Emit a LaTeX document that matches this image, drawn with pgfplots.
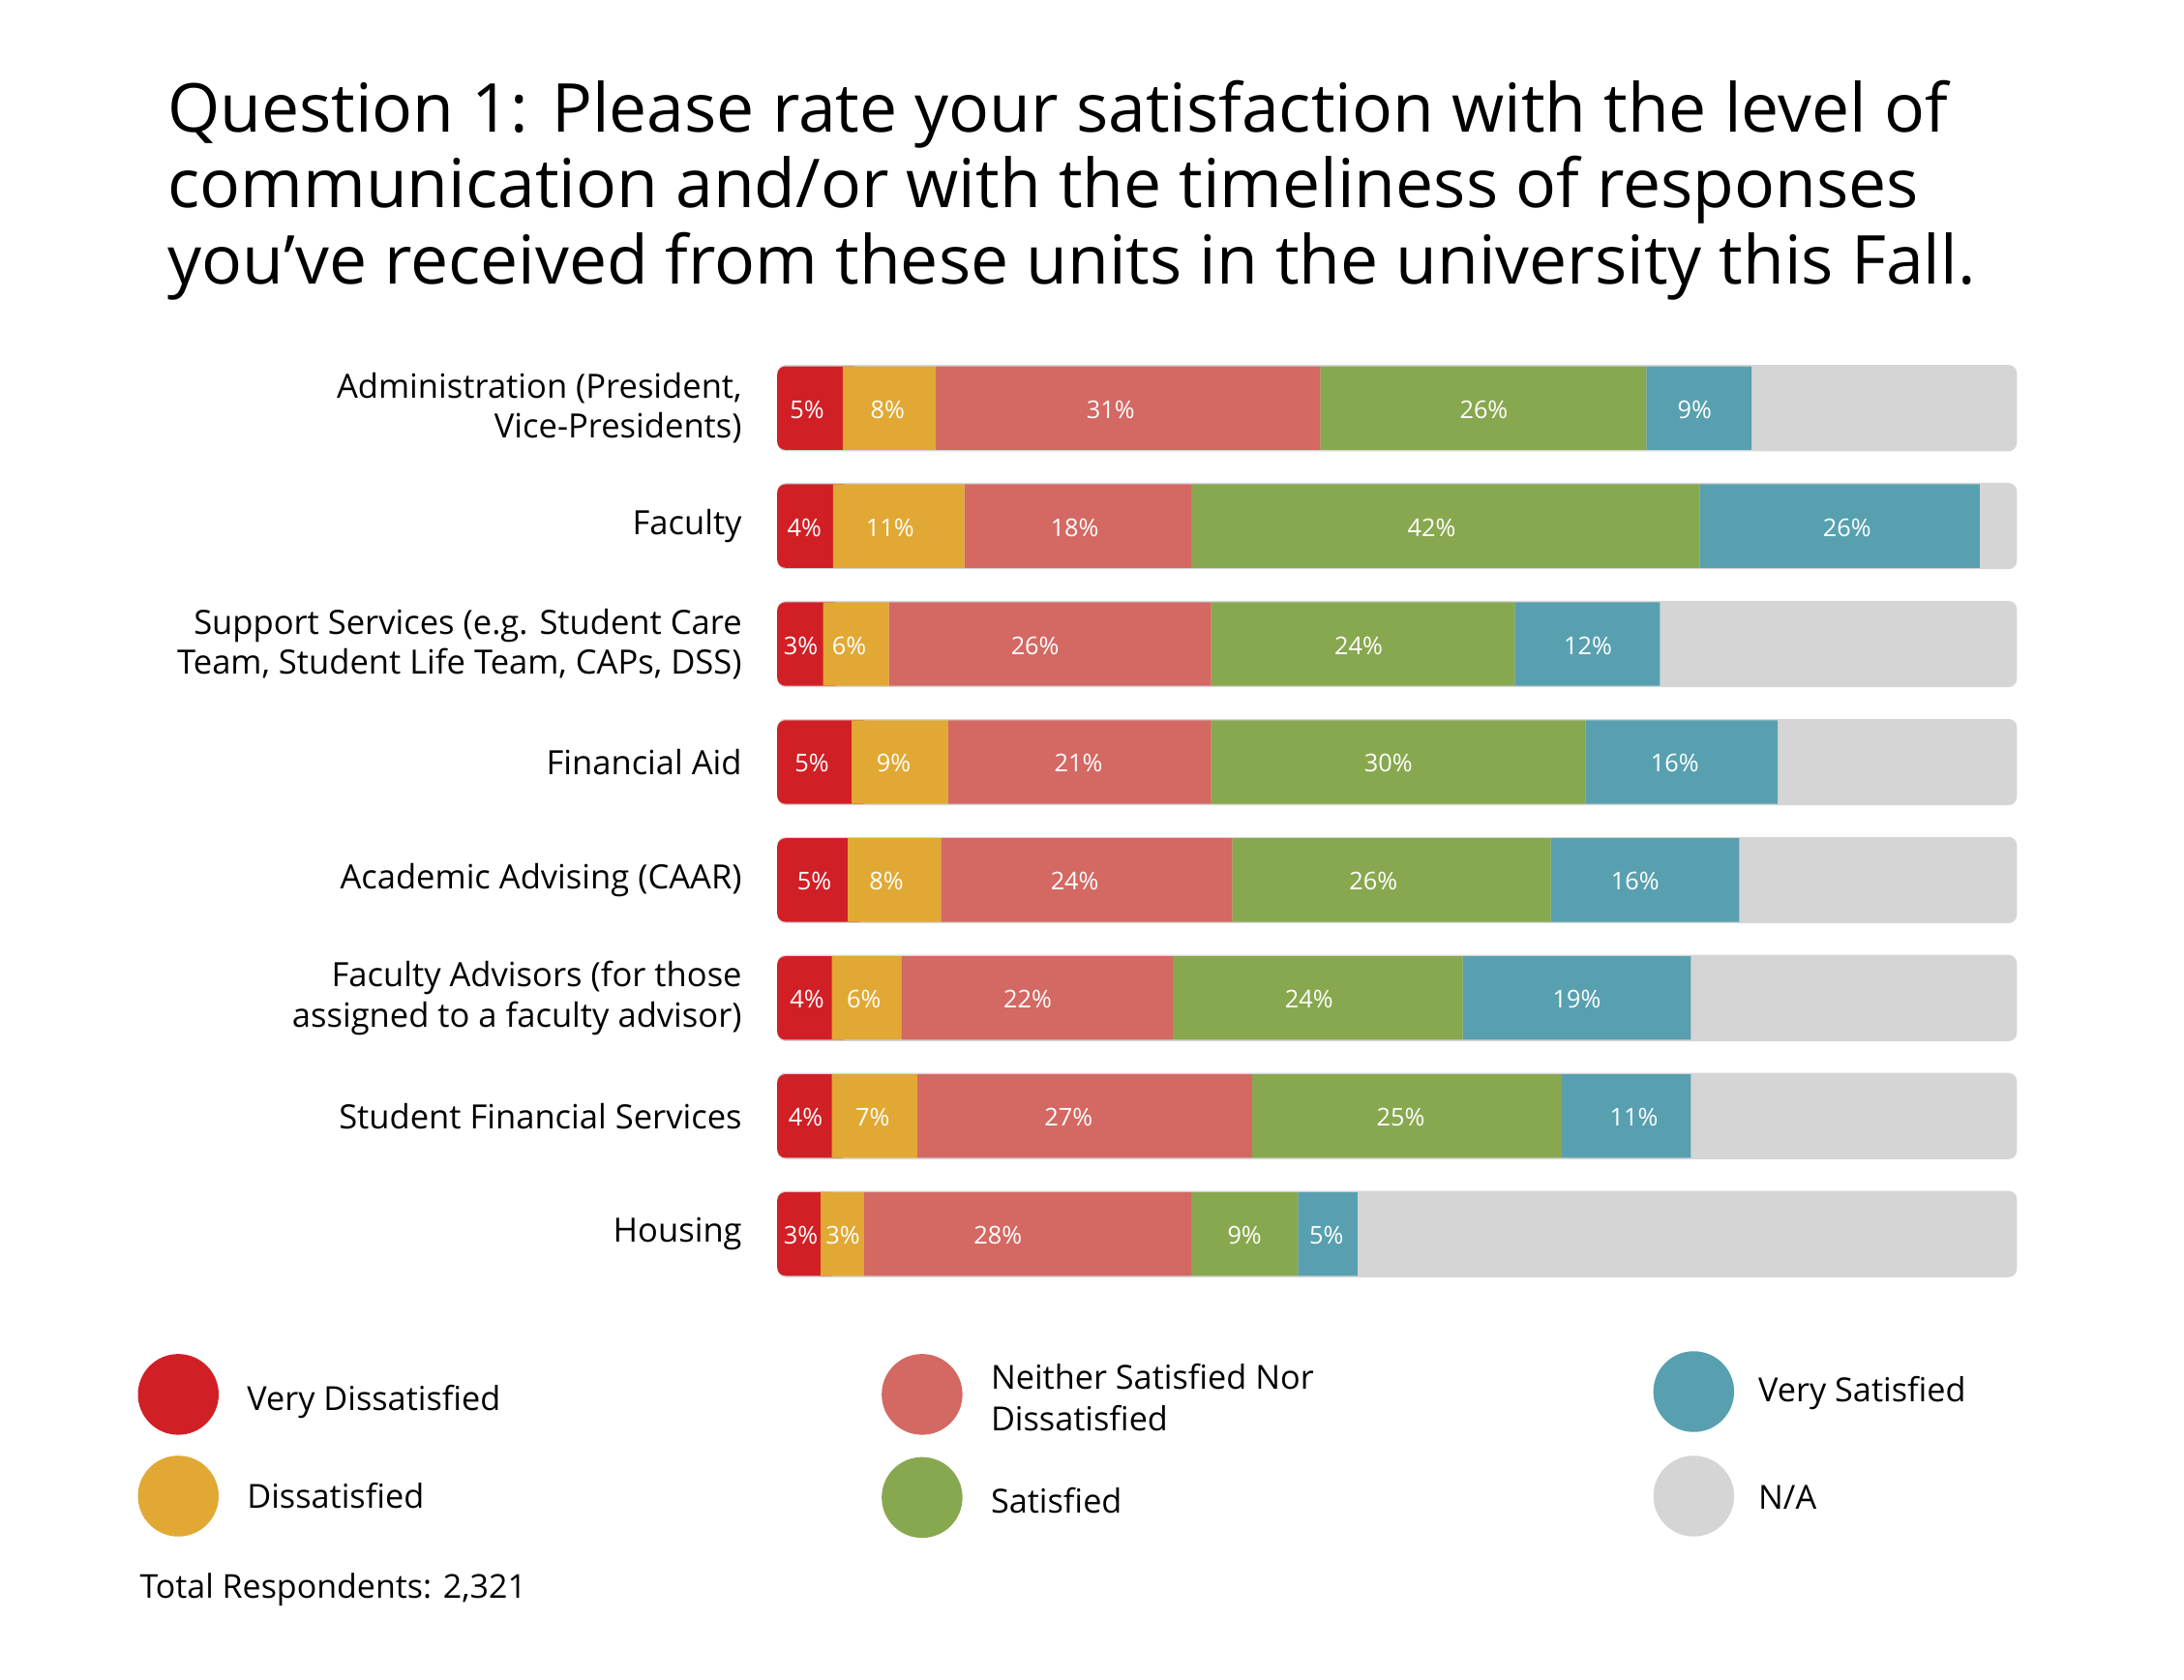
\documentclass[border=0pt]{standalone}
\usepackage{fontspec}
\setmainfont{Open Sans}
\usepackage{pgfplots}
\pgfplotsset{compat=1.18}
\usepackage{pgfplotstable}

\definecolor{cVD}{HTML}{D11F26}
\definecolor{cD}{HTML}{E1A833}
\definecolor{cN}{HTML}{D46862}
\definecolor{cS}{HTML}{88A84F}
\definecolor{cVS}{HTML}{58A0B0}
\definecolor{cNA}{HTML}{D5D5D5}

% segment widths (percent of bar) and printed labels
\pgfplotstableread{
y vd  d    n    s    vs   na   lvd ld ln ls lvs
0 5.3 7.5  31.0 26.3 8.5  21.4 5   8  31 26 9
1 4.5 10.6 18.3 41.0 22.6 3.0  4   11 18 42 26
2 3.7 5.3  26.0 24.5 11.7 28.8 3   6  26 24 12
3 6.0 7.8  21.2 30.2 15.5 19.3 5   9  21 30 16
4 5.7 7.5  23.5 25.7 15.2 22.4 5   8  24 26 16
5 4.4 5.6  21.9 23.4 18.4 26.3 4   6  22 24 19
6 4.4 6.9  27.0 25.0 10.4 26.3 4   7  27 25 11
7 3.5 3.5  26.4 8.6  4.8  53.2 3   3  28 9  5
}\datatable

% positions of the printed labels along the bar (percent)
\pgfplotstableread{
y p1  p2  p3   p4   p5
0 2.4 8.9 26.9 57.0 74.0
1 2.2 9.1 24.0 52.8 86.3
2 1.9 5.8 20.8 46.9 65.4
3 2.8 9.4 24.3 49.3 72.4
4 3.0 8.8 24.0 48.1 69.2
5 2.4 7.0 20.2 42.9 64.5
6 2.3 7.7 23.5 50.3 69.1
7 1.9 5.3 17.8 37.7 44.3
}\postable

\begin{document}
\begin{tikzpicture}
\useasboundingbox (0,0) rectangle (784pt,-603pt);
\pgfplotsset{
  base/.style={scale only axis, width=445pt, height=338.8pt,
    at={(279pt,-125.3pt)}, anchor=north west,
    xmin=0, xmax=100, ymin=-0.5, ymax=7.5, y dir=reverse,
    axis line style={draw=none}, major tick length=0pt, xtick=\empty, clip=false},
}
% background bars and rounded left end
\begin{axis}[base, ytick={0,...,7},
  yticklabels={{Administration (President,\\Vice-Presidents)}, Faculty,
    {Support Services (e.g. Student Care\\Team, Student Life Team, CAPs, DSS)},
    Financial Aid, Academic Advising (CAAR),
    {Faculty Advisors (for those\\assigned to a faculty advisor)},
    Student Financial Services, Housing},
  yticklabel style={align=right, font=\fontsize{12}{14.5}\selectfont, inner sep=0pt, xshift=-12.5pt}]
\addplot[xbar, bar width=31pt, bar shift=0pt, fill=cNA, draw=none, rounded corners=3pt]
  table[x expr=\thisrow{vd}+\thisrow{d}+\thisrow{n}+\thisrow{s}+\thisrow{vs}+\thisrow{na}, y=y] {\datatable};
\addplot[xbar, bar width=30pt, bar shift=0pt, fill=cVD, draw=none, rounded corners=3pt]
  table[x expr=\thisrow{vd}+1.5, y=y] {\datatable};
\end{axis}
% stacked segments
\begin{axis}[base, xbar stacked, bar width=30pt, ytick=\empty]
\addplot[fill=none, draw=none] table[x=vd, y=y] {\datatable};
\addplot[fill=cD, draw=none] table[x=d, y=y] {\datatable};
\addplot[fill=cN, draw=none] table[x=n, y=y] {\datatable};
\addplot[fill=cS, draw=none] table[x=s, y=y] {\datatable};
\addplot[fill=cVS, draw=none] table[x=vs, y=y] {\datatable};
\end{axis}
% labels
\pgfplotstablecreatecol[copy column from table={\datatable}{lvd}]{lvd}\postable
\pgfplotstablecreatecol[copy column from table={\datatable}{ld}]{ld}\postable
\pgfplotstablecreatecol[copy column from table={\datatable}{ln}]{ln}\postable
\pgfplotstablecreatecol[copy column from table={\datatable}{ls}]{ls}\postable
\pgfplotstablecreatecol[copy column from table={\datatable}{lvs}]{lvs}\postable
\begin{axis}[base, ytick=\empty,
  nodes near coords={\pgfplotspointmeta\%}, point meta=explicit symbolic,
  every node near coord/.style={text=white, font=\fontsize{8.8}{10}\selectfont, anchor=center, inner sep=0pt, yshift=-0.5pt}]
\addplot[only marks, mark=*, mark size=0pt, mark options={draw=none, fill=none}]
  table[x=p1, y=y, meta=lvd] {\postable};
\addplot[only marks, mark=*, mark size=0pt, mark options={draw=none, fill=none}]
  table[x=p2, y=y, meta=ld] {\postable};
\addplot[only marks, mark=*, mark size=0pt, mark options={draw=none, fill=none}]
  table[x=p3, y=y, meta=ln] {\postable};
\addplot[only marks, mark=*, mark size=0pt, mark options={draw=none, fill=none}]
  table[x=p4, y=y, meta=ls] {\postable};
\addplot[only marks, mark=*, mark size=0pt, mark options={draw=none, fill=none}]
  table[x=p5, y=y, meta=lvs] {\postable};
\end{axis}

% title
\begin{scope}[every node/.style={anchor=base west, inner sep=0pt, font=\fontsize{24.2}{28}\selectfont}]
\node at (60pt,-47.5pt) {Question 1: Please rate your satisfaction with the level of};
\node at (60pt,-74.5pt) {communication and/or with the timeliness of responses};
\node at (60pt,-102pt) {you’ve received from these units in the university this Fall.};
\end{scope}

% legend
\fill[cVD] (64pt,-500.5pt) circle (14.5pt);
\fill[cD]  (64pt,-537pt) circle (14.5pt);
\fill[cN]  (331pt,-500.5pt) circle (14.5pt);
\fill[cS]  (331pt,-537.5pt) circle (14.5pt);
\fill[cVS] (608pt,-499.5pt) circle (14.5pt);
\fill[cNA] (608pt,-537pt) circle (14.5pt);
\begin{scope}[every node/.style={anchor=west, inner sep=0pt, align=left, font=\fontsize{11.9}{14.8}\selectfont}]
\node at (88.5pt,-503pt) {Very Dissatisfied};
\node at (88.5pt,-537pt) {Dissatisfied};
\node at (355.5pt,-501.5pt) {Neither Satisfied Nor\\Dissatisfied};
\node at (355.5pt,-538.5pt) {Satisfied};
\node at (631pt,-500pt) {Very Satisfied};
\node at (631pt,-537.5pt) {N/A};
\node[font=\fontsize{11.8}{13}\selectfont] at (50pt,-570.5pt) {Total Respondents: 2,321};
\end{scope}
\end{tikzpicture}
\end{document}
